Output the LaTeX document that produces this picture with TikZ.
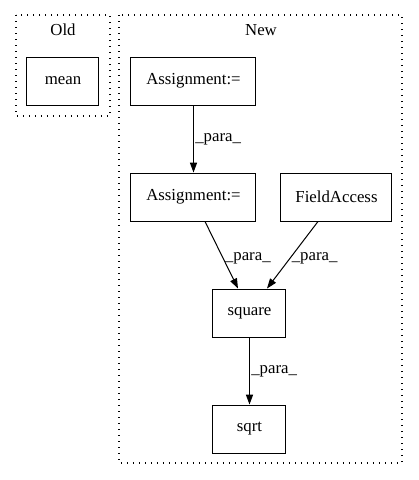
\documentclass[tikz,border=0pt]{standalone}
\usepackage{fontspec}
\setmainfont{Liberation Serif}
\usetikzlibrary{arrows.meta}
\begin{document}
\begin{tikzpicture}[x=0.75pt,y=-0.75pt,
  every node/.style={font=\fontsize{12.6pt}{14pt}\selectfont},
  box/.style={draw,line width=0.75pt,inner sep=0pt},
  cluster/.style={draw,line width=0.9pt,dash pattern=on 0.9pt off 3.6pt},
  conn/.style={draw,line width=0.75pt,-{Triangle[length=7.5pt,width=5.4pt]}},
  lab/.style={inner sep=1pt}]
\useasboundingbox (0,0) rectangle (419,480);
% clusters
\draw[cluster] (16,15) rectangle (110,116);
\node (oldlab) at (63,30) {Old};
\draw[cluster] (119,15) rectangle (402,463);
\node (newlab) at (261,30) {New};
% nodes
\node[box] (mean) at (63,81) [minimum width=54pt,minimum height=36pt] {mean};
\node[box] (a1) at (193.5,81) [minimum width=93.75pt,minimum height=36pt] {Assignment:=};
\node[box] (a2) at (193.5,197) [minimum width=93.75pt,minimum height=36pt] {Assignment:=};
\node[box] (fa) at (336.5,197) [minimum width=83.25pt,minimum height=36pt] {FieldAccess};
\node[box] (sq) at (249.5,313) [minimum width=54.75pt,minimum height=36pt] {square};
\node[box] (sqrt) at (249.5,429) [minimum width=54.75pt,minimum height=36pt] {sqrt};
% edges
\draw[conn] (a1) -- node[lab,right] {\_para\_} (a2);
\draw[conn] (a2.south -| 205,0) -- node[lab,right,pos=0.55] {\_para\_} (sq.north -| 238,0);
\draw[conn] (fa.south -| 318,0) -- node[lab,right,pos=0.55] {\_para\_} (sq.north -| 267,0);
\draw[conn] (sq) -- node[lab,right] {\_para\_} (sqrt);
\end{tikzpicture}
\end{document}
